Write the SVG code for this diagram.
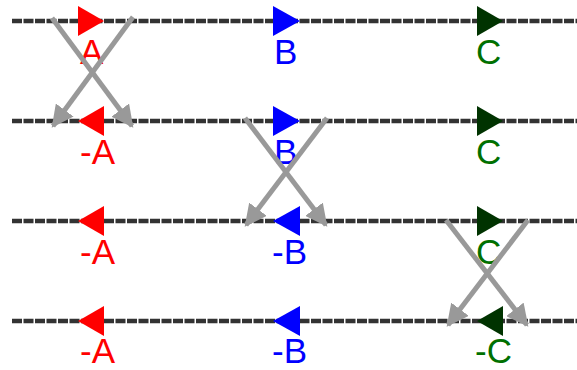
<svg xmlns="http://www.w3.org/2000/svg" width="577" height="370" viewBox="0 0 577 370">
<style>
.ln{stroke:#333;stroke-width:4.5;stroke-dasharray:10 1.5;fill:none}
.x{stroke:#999;stroke-width:5;fill:none;marker-end:url(#ah)}
text{font-family:"Liberation Sans",Arial,sans-serif;font-size:35px}
.r{fill:#ff0000}.b{fill:#0000ff}.g{fill:#007000}.gt{fill:#003300}
</style>
<defs>
<marker id="ah" viewBox="0 0 10 10" refX="9" refY="5" markerWidth="4.4" markerHeight="4.4" orient="auto" markerUnits="strokeWidth">
<path d="M0,0 L10,5 L0,10 z" fill="#999"/>
</marker>
</defs>
<g id="lines">
<line class="ln" x1="12" y1="21" x2="577" y2="21"/>
<line class="ln" x1="12" y1="121" x2="577" y2="121"/>
<line class="ln" x1="12" y1="221" x2="577" y2="221"/>
<line class="ln" x1="12" y1="321" x2="577" y2="321"/>
</g>
<g id="row1">
<polygon class="r" points="78,6 104,21 78,36"/><text class="r" x="80" y="64">A</text>
<polygon class="b" points="273,6 300,21 273,36"/><text class="b" x="274" y="64">B</text>
<polygon class="gt" points="477,6 503,21 477,36"/><text class="g" x="476" y="64">C</text>
</g>
<g id="row2">
<polygon class="r" points="104,106 78,121 104,136"/><text class="r" x="80" y="164">-A</text>
<polygon class="b" points="273,106 300,121 273,136"/><text class="b" x="274" y="164">B</text>
<polygon class="gt" points="477,106 503,121 477,136"/><text class="g" x="476" y="164">C</text>
</g>
<g id="row3">
<polygon class="r" points="104,206 78,221 104,236"/><text class="r" x="80" y="264">-A</text>
<polygon class="b" points="300,206 273,221 300,236"/><text class="b" x="272" y="264">-B</text>
<polygon class="gt" points="477,206 503,221 477,236"/><text class="g" x="476" y="264">C</text>
</g>
<g id="row4">
<polygon class="r" points="104,306 78,321 104,336"/><text class="r" x="80" y="363">-A</text>
<polygon class="b" points="300,306 273,321 300,336"/><text class="b" x="272" y="363">-B</text>
<polygon class="gt" points="503,306 477,321 503,336"/><text class="g" x="475" y="363">-C</text>
</g>
<g id="connectors">
<line class="x" x1="52" y1="18" x2="132" y2="126"/>
<line class="x" x1="133" y1="17" x2="53" y2="126"/>
<line class="x" x1="245" y1="118" x2="326" y2="225"/>
<line class="x" x1="327" y1="118" x2="246" y2="225"/>
<line class="x" x1="446" y1="220" x2="527" y2="325"/>
<line class="x" x1="528" y1="220" x2="448" y2="325"/>
</g>
</svg>
